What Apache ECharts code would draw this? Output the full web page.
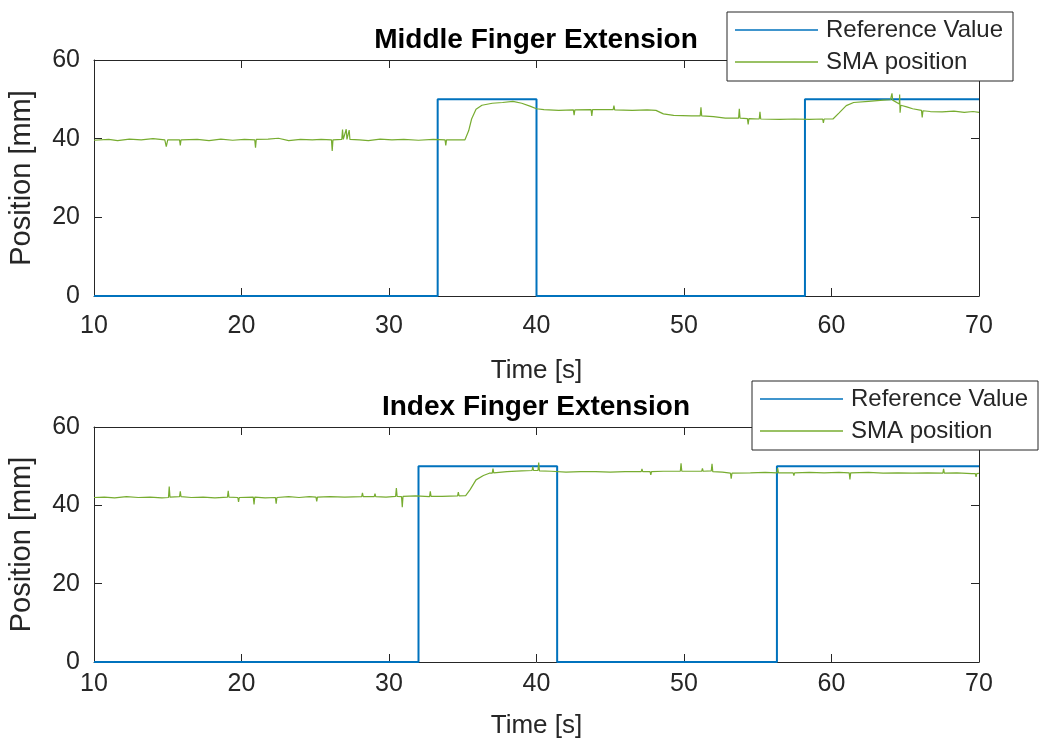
<!DOCTYPE html>
<html><head><meta charset="utf-8">
<script src="https://cdn.jsdelivr.net/npm/echarts@6/dist/echarts.min.js"></script>
<style>html,body{margin:0;padding:0;background:#fff}#c{width:1041px;height:740px}</style>
</head><body><div id="c"></div><script>
// ---- Data ----
const titles = ['Middle Finger Extension', 'Index Finger Extension'];
const seriesNames = ['Reference Value', 'SMA position'];
const xTicks = [10, 20, 30, 40, 50, 60, 70];
const yTicks = [0, 20, 40, 60];

// Middle finger: reference step signal
const refTimeMiddle = [10, 33.3, 33.3, 40.0, 40.0, 58.2, 58.2, 70];
const refValMiddle  = [0, 0, 50, 50, 0, 0, 50, 50];

// Middle finger: measured SMA position
const smaTimeMiddle = [10.0,11.0,11.6,12.4,13.2,14.0,14.8,14.9,15.0,15.8,15.85,15.9,17.0,17.8,18.6,19.4,20.2,20.9,20.95,21.0,21.8,22.5,23.2,24.0,24.8,25.4,26.1,26.15,26.2,26.8,26.85,26.9,27.1,27.15,27.3,27.35,28.0,28.6,29.4,30.2,31.0,32.0,33.0,33.8,33.85,33.9,35.15,35.4,35.6,35.9,36.3,37.0,37.7,38.4,39.0,39.6,40.0,40.5,41.5,42.5,42.55,42.6,43.7,43.75,43.8,44.5,45.2,45.25,45.3,46.5,47.5,48.1,48.6,49.3,50.5,51.1,51.15,51.2,52.0,52.8,53.7,53.75,53.8,54.3,54.35,54.4,55.1,55.15,55.2,56.5,57.5,58.5,59.4,59.45,59.5,60.1,60.5,61.0,61.5,62.5,63.5,64.0,64.1,64.15,64.6,64.62,64.65,64.7,65.1,65.5,66.1,66.15,66.2,66.7,67.5,68.3,69.0,69.6,70.0];
const smaValMiddle  = [39.6,39.8,39.5,39.9,39.7,40.0,39.7,38.0,39.7,39.7,38.3,39.7,39.8,39.5,39.9,39.6,39.8,39.7,37.7,39.8,39.9,40.1,39.5,39.8,39.7,39.8,39.7,36.9,39.7,39.8,42.3,39.8,42.4,39.8,42.2,39.8,39.7,39.5,39.9,39.7,39.8,39.6,39.8,39.7,38.3,39.7,39.7,42.0,45.0,47.5,48.5,49.0,49.2,49.5,49.0,48.2,47.6,47.4,47.2,47.3,46.0,47.3,47.4,45.8,47.4,47.4,47.4,48.4,47.3,47.2,47.3,47.2,46.3,45.9,45.8,45.8,48.0,45.8,45.6,45.2,45.2,47.6,45.2,45.1,43.6,45.1,45.0,46.8,45.0,44.9,45.0,44.9,45.0,44.0,45.0,45.0,46.5,48.4,49.2,49.5,49.8,49.9,51.5,49.8,48.8,51.2,46.6,48.5,48.1,47.6,47.2,45.4,47.1,46.9,46.8,47.0,46.7,46.9,46.7];

// Index finger: reference step signal
const refTimeIndex = [10, 32.0, 32.0, 41.4, 41.4, 56.3, 56.3, 70];
const refValIndex  = [0, 0, 50, 50, 0, 0, 50, 50];

// Index finger: measured SMA position
const smaTimeIndex = [10.0,10.7,11.4,12.2,13.0,13.8,14.6,15.05,15.1,15.15,15.8,15.85,15.9,16.6,17.4,18.2,19.05,19.1,19.15,19.75,19.8,19.85,20.8,20.85,20.9,21.6,22.3,22.35,22.4,23.2,23.9,24.6,25.05,25.1,25.15,26.0,27.0,28.15,28.2,28.25,29.0,29.05,29.1,29.8,30.45,30.5,30.55,30.85,30.9,30.95,31.8,32.75,32.8,32.85,33.6,34.65,34.7,34.75,35.2,35.5,35.9,36.4,36.8,37.0,37.05,37.1,38.0,39.0,39.7,39.75,39.8,40.1,40.15,40.2,41.0,42.0,43.0,44.0,45.0,46.0,47.1,47.15,47.2,47.7,47.75,47.8,48.6,49.75,49.8,49.85,50.6,51.2,51.25,51.3,51.85,51.9,51.95,52.6,53.15,53.2,53.25,54.5,55.5,56.3,56.35,56.4,57.4,57.45,57.5,58.5,59.5,60.5,61.2,61.25,61.3,62.5,63.5,64.5,65.5,66.5,67.55,67.6,67.65,68.5,69.5,69.75,69.8,69.85,70.0];
const smaValIndex  = [42.0,42.1,41.9,42.2,42.0,42.1,41.9,42.0,44.8,42.1,42.2,43.6,42.2,42.0,42.1,41.9,42.1,43.7,42.1,42.0,40.9,42.0,42.1,40.2,42.1,41.9,42.0,40.4,42.0,42.2,42.0,42.2,42.1,41.0,42.1,42.2,42.1,42.2,43.2,42.2,42.2,43.0,42.2,42.1,42.3,44.4,42.3,42.2,39.5,42.3,42.4,42.2,43.6,42.3,42.3,42.4,43.4,42.4,42.5,44.0,46.5,47.6,48.2,48.2,49.4,48.3,48.6,48.8,48.9,49.9,48.9,48.9,50.9,48.8,48.7,48.5,48.6,48.6,48.5,48.6,48.6,49.3,48.6,48.6,47.8,48.6,48.7,48.7,50.7,48.7,48.7,48.7,49.4,48.7,48.8,50.6,48.6,48.5,48.2,46.8,48.2,48.3,48.4,48.3,49.5,48.3,48.3,47.6,48.3,48.4,48.3,48.4,48.3,46.6,48.3,48.4,48.2,48.3,48.2,48.3,48.2,49.3,48.2,48.3,48.1,48.1,47.3,48.1,48.2];

// ---- Chart ----
const FONT = 'Liberation Sans, Arial, sans-serif';
const TXT = '#262626';
const BLUE = '#0072BD';
const GREEN = '#77AC30';
const pairs = (ts, vs) => ts.map((t, i) => [t, vs[i]]);

const grids = [
  { left: 94, top: 60, width: 885, height: 236, containLabel: false, outerBoundsMode: 'none' },
  { left: 94, top: 427, width: 885, height: 235, containLabel: false, outerBoundsMode: 'none' }
];

function xAx(g, pos, labels, margin, nameGap) {
  return {
    type: 'value', gridIndex: g, position: pos, min: 10, max: 70, interval: 10,
    name: labels ? 'Time [s]' : '', nameLocation: 'middle', nameGap: nameGap || 0,
    nameTextStyle: { fontFamily: FONT, fontSize: 26, color: TXT },
    axisLine: { show: true, onZero: false, lineStyle: { color: TXT, width: 1 } },
    axisTick: { show: true, inside: true, length: 8, lineStyle: { color: TXT } },
    axisLabel: { show: labels, margin: margin || 8, fontFamily: FONT, fontSize: 25, color: TXT },
    splitLine: { show: false }
  };
}
function yAx(g, pos, labels) {
  return {
    type: 'value', gridIndex: g, position: pos, min: 0, max: 60, interval: 20,
    name: labels ? 'Position [mm]' : '', nameLocation: 'middle', nameGap: 58,
    nameTextStyle: { fontFamily: FONT, fontSize: 29, color: TXT },
    axisLine: { show: true, onZero: false, lineStyle: { color: TXT, width: 1 } },
    axisTick: { show: true, inside: true, length: 8, lineStyle: { color: TXT } },
    axisLabel: { show: labels, margin: 14, fontFamily: FONT, fontSize: 25, color: TXT },
    splitLine: { show: false }
  };
}

function legendFor(left, top) {
  return {
    data: seriesNames.map(n => ({ name: n, icon: 'rect' })),
    orient: 'vertical', left: left, top: top,
    itemWidth: 83, itemHeight: 1.5, itemGap: 8,
    padding: [6, 10, 7, 8],
    backgroundColor: '#fff', borderColor: TXT, borderWidth: 1, borderRadius: 0,
    textStyle: { fontFamily: FONT, fontSize: 24, color: TXT, padding: [0, 0, 0, 3], lineHeight: 24 },
    selectedMode: false
  };
}

const option = {
  backgroundColor: '#fff',
  animation: false,
  title: [
    { text: titles[0], left: 536, top: 26, textAlign: 'center', padding: 0,
      textStyle: { fontFamily: FONT, fontSize: 28, fontWeight: 'bold', color: '#000' } },
    { text: titles[1], left: 536, top: 393, textAlign: 'center', padding: 0,
      textStyle: { fontFamily: FONT, fontSize: 28, fontWeight: 'bold', color: '#000' } }
  ],
  legend: [legendFor(727, 12), legendFor(752, 381)],
  grid: grids,
  xAxis: [xAx(0, 'bottom', true, 18, 62), xAx(0, 'top', false), xAx(1, 'bottom', true, 10, 51), xAx(1, 'top', false)],
  yAxis: [yAx(0, 'left', true), yAx(0, 'right', false), yAx(1, 'left', true), yAx(1, 'right', false)],
  series: [
    { name: seriesNames[0], type: 'line', xAxisIndex: 0, yAxisIndex: 0, showSymbol: false, symbol: 'none',
      data: pairs(refTimeMiddle, refValMiddle), lineStyle: { color: BLUE, width: 2 }, itemStyle: { color: BLUE } },
    { name: seriesNames[1], type: 'line', xAxisIndex: 0, yAxisIndex: 0, showSymbol: false, symbol: 'none',
      data: pairs(smaTimeMiddle, smaValMiddle), lineStyle: { color: GREEN, width: 1.2 }, itemStyle: { color: GREEN } },
    { name: seriesNames[0], type: 'line', xAxisIndex: 2, yAxisIndex: 2, showSymbol: false, symbol: 'none',
      data: pairs(refTimeIndex, refValIndex), lineStyle: { color: BLUE, width: 2 }, itemStyle: { color: BLUE } },
    { name: seriesNames[1], type: 'line', xAxisIndex: 2, yAxisIndex: 2, showSymbol: false, symbol: 'none',
      data: pairs(smaTimeIndex, smaValIndex), lineStyle: { color: GREEN, width: 1.2 }, itemStyle: { color: GREEN } }
  ]
};

const chart = echarts.init(document.getElementById('c'), null, { renderer: 'canvas' });
chart.setOption(option);
</script></body></html>
